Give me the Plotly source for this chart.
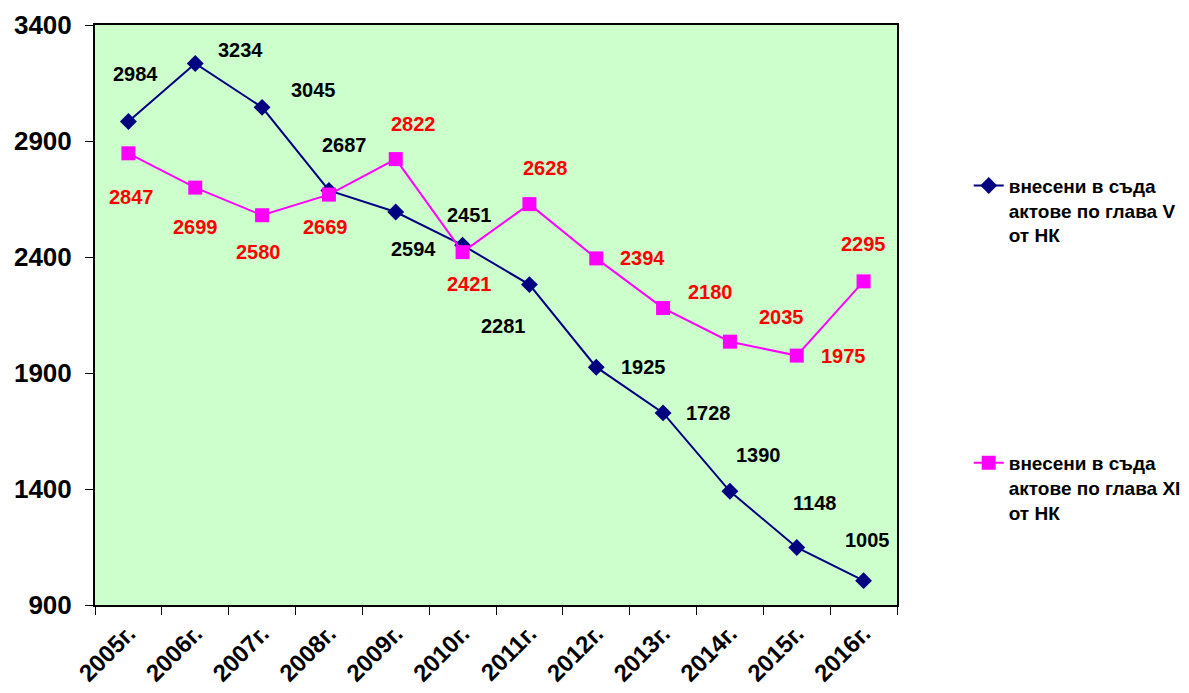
import plotly.graph_objects as go

# данни
godini = ['2005г.', '2006г.', '2007г.', '2008г.', '2009г.', '2010г.',
          '2011г.', '2012г.', '2013г.', '2014г.', '2015г.', '2016г.']
glava_v = [2984, 3234, 3045, 2687, 2594, 2451, 2281, 1925, 1728, 1390, 1148, 1005]
glava_xi = [2847, 2699, 2580, 2669, 2822, 2421, 2628, 2394, 2180, 2035, 1975, 2295]
y_ticks = [900, 1400, 1900, 2400, 2900, 3400]

# отмествания на етикетите (px)
off_v = [(7, -48), (45, -14), (51, -17), (16, -45), (18, 37), (7, -30),
         (-26, 41), (47, 0), (45, 0), (29, -36), (18, -44), (4, -41)]
off_xi = [(3, 44), (0, 39), (-4, 37), (-3, 32), (18, -35), (7, 32),
          (16, -36), (46, 0), (47, -16), (52, -25), (47, 0), (0, -37)]

fig = go.Figure()

fig.add_trace(go.Scatter(
    x=godini, y=glava_v, mode='lines+markers',
    name='внесени в съда<br>актове по глава V<br>от НК',
    line=dict(color='#000080', width=2),
    marker=dict(symbol='diamond', size=13, color='#000080'),
    showlegend=True, legend='legend'
))

fig.add_trace(go.Scatter(
    x=godini, y=glava_xi, mode='lines+markers',
    name='внесени в съда<br>актове по глава XI<br>от НК',
    line=dict(color='#FF00FF', width=2),
    marker=dict(symbol='square', size=14, color='#FF00FF'),
    showlegend=True, legend='legend2'
))

annotations = []
for g, v, (dx, dy) in zip(godini, glava_v, off_v):
    annotations.append(dict(x=g, y=v, text=str(v), showarrow=False,
                            xshift=dx, yshift=-dy,
                            font=dict(color='black', size=20, weight='bold')))
for g, v, (dx, dy) in zip(godini, glava_xi, off_xi):
    annotations.append(dict(x=g, y=v, text=str(v), showarrow=False,
                            xshift=dx, yshift=-dy,
                            font=dict(color='#FF0000', size=20, weight='bold')))

leg_font = dict(family='Arial', size=19, color='black', weight='bold')

fig.update_layout(
    width=1189, height=693,
    margin=dict(l=87, r=300, t=17, b=96),
    paper_bgcolor='white',
    plot_bgcolor='#CCFFCC',
    font=dict(family='Arial', color='black'),
    showlegend=True,
    annotations=annotations,
    legend=dict(x=0.808, y=0.771, xref='container', yref='container',
                xanchor='left', yanchor='top', tracegroupgap=0,
                font=leg_font, valign='top', bgcolor='rgba(0,0,0,0)'),
    legend2=dict(x=0.808, y=0.371, xref='container', yref='container',
                 xanchor='left', yanchor='top', tracegroupgap=0,
                 font=leg_font, valign='top', bgcolor='rgba(0,0,0,0)'),
    xaxis=dict(
        type='category', range=[-0.5, 11.5], automargin=False,
        tickson='boundaries', ticks='outside', ticklen=8, tickcolor='black',
        tickangle=-45, tickfont=dict(size=24, weight='bold'),
        ticklabelstandoff=3,
        showline=True, linecolor='black', linewidth=2, mirror=True,
        showgrid=False
    ),
    yaxis=dict(
        range=[900, 3400], tickvals=y_ticks, automargin=False,
        ticks='outside', ticklen=8, tickcolor='black',
        tickfont=dict(size=26, weight='bold'), ticklabelstandoff=8,
        showline=True, linecolor='black', linewidth=2, mirror=True,
        showgrid=False, zeroline=False
    )
)

fig.write_html("out.html")
